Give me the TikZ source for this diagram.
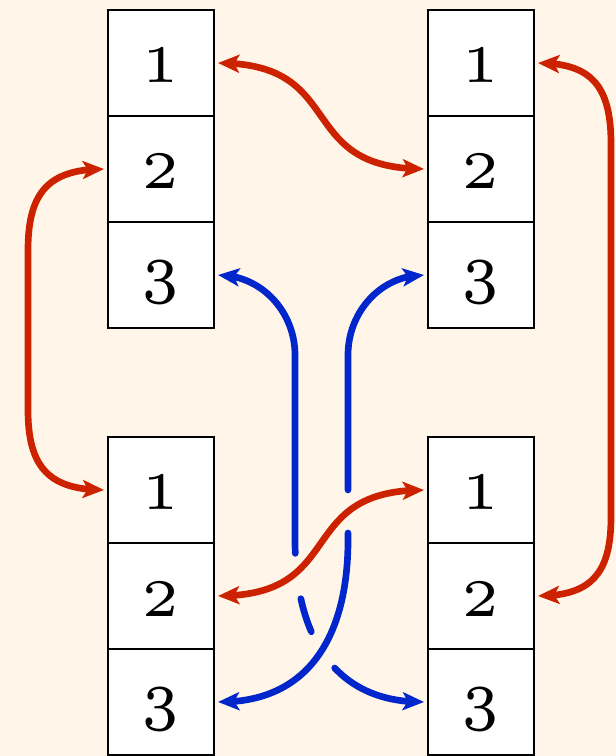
\documentclass[tikz,border=0pt]{standalone}
\usepackage{graphicx}
\usetikzlibrary{arrows.meta,bending,calc}
\definecolor{paper}{HTML}{FFF6E9}
\definecolor{linkred}{HTML}{CC2200}
\definecolor{linkblue}{HTML}{0026CC}

% de Casteljau split of the cubic (#1)(#2)(#3)(#4) at parameter #5;
% the new points are named #6a ... #6e and #6m (the split point)
\newcommand\splitcurve[6]{%
  \coordinate (#6a) at ($(#1)!#5!(#2)$);
  \coordinate (#6b) at ($(#2)!#5!(#3)$);
  \coordinate (#6c) at ($(#3)!#5!(#4)$);
  \coordinate (#6d) at ($(#6a)!#5!(#6b)$);
  \coordinate (#6e) at ($(#6b)!#5!(#6c)$);
  \coordinate (#6m) at ($(#6d)!#5!(#6e)$);
}
% cell labels: the 5pt design enlarged
\newcommand\wide[1]{\scalebox{8.4}[7.92]{#1}}
\newcommand\three{\raisebox{-6.5pt}{\scalebox{8.4}[9.8]{3}}}

\begin{document}
\begin{tikzpicture}[x=0.75pt,y=0.75pt,
  cell/.style={draw=black,line width=1.8pt,fill=white,
    minimum width=79.5pt,minimum height=79.5pt,inner sep=0pt,outer sep=3pt,
    text height=30pt,text depth=0pt,font=\fontsize{5pt}{6pt}\selectfont},
  link/.style={line width=5pt,line cap=round},
  redlink/.style={link,draw=linkred},
  bluelink/.style={link,draw=linkblue},
  >={Stealth[length=16pt,width=13.5pt,inset=3.8pt]}]

\fill[paper] (0,0) rectangle (616,756);
\useasboundingbox (0,0) rectangle (616,756);

% the four stacks of cells
\node[cell] (tl1) at (161,693) {\wide{1}};
\node[cell] (tl2) at (161,587) {\wide{2}};
\node[cell] (tl3) at (161,481) {\three};
\node[cell] (tr1) at (481,693) {\wide{1}};
\node[cell] (tr2) at (481,587) {\wide{2}};
\node[cell] (tr3) at (481,481) {\three};
\node[cell] (bl1) at (161,266) {\wide{1}};
\node[cell] (bl2) at (161,160) {\wide{2}};
\node[cell] (bl3) at (161,54)  {\three};
\node[cell] (br1) at (481,266) {\wide{1}};
\node[cell] (br2) at (481,160) {\wide{2}};
\node[cell] (br3) at (481,54)  {\three};

% blue link from tl3 to br3: passes under the red link and the other blue link
\coordinate (va) at (295,401);
\coordinate (u0) at (295,216);
\coordinate (u1) at (295,126);
\coordinate (u2) at (330,53);
\coordinate (u3) at (br3.west);
\splitcurve{u0}{u1}{u2}{u3}{0.05}{s1}
\splitcurve{u0}{u1}{u2}{u3}{0.23}{s2}
\splitcurve{s2m}{s2e}{s2c}{u3}{0.1922}{s3}
\splitcurve{u0}{u1}{u2}{u3}{0.578}{s4}
\draw[bluelink,<-] (tl3.east) to[out=0,in=90] (va) -- (u0)
  .. controls (s1a) and (s1d) .. (s1m);
\draw[bluelink] (s2m) .. controls (s3a) and (s3d) .. (s3m);
\draw[bluelink,->] (s4m) .. controls (s4e) and (s4c) .. (u3);

% blue link from tr3 to bl3: passes under the red link
\coordinate (vb) at (348,401);
\coordinate (gb1) at (348,266);
\coordinate (gb2) at (348,223);
\coordinate (w0) at (348,216);
\draw[bluelink,<-] (tr3.west) to[out=180,in=90] (vb) -- (gb1);
\draw[bluelink,->] (gb2) -- (w0) .. controls (348,126) and (313,53) .. (bl3.east);

% red links
\coordinate (ltop) at (28,506);
\coordinate (lbot) at (28,346);
\coordinate (rtop) at (611,612);
\coordinate (rbot) at (611,239);
\draw[redlink,<->] (tl1.east) to[out=0,in=180,looseness=1.45] (tr2.west);
\draw[redlink,<->] (tl2.west) to[out=180,in=90,looseness=1.3] (ltop) -- (lbot)
  to[out=-90,in=180,looseness=1.3] (bl1.west);
\draw[redlink,<->] (tr1.east) to[out=0,in=90,looseness=1.3] (rtop) -- (rbot)
  to[out=-90,in=0,looseness=1.3] (br2.east);
\draw[redlink,<->] (bl2.east) to[out=0,in=180,looseness=1.45] (br1.west);
\end{tikzpicture}
\end{document}
